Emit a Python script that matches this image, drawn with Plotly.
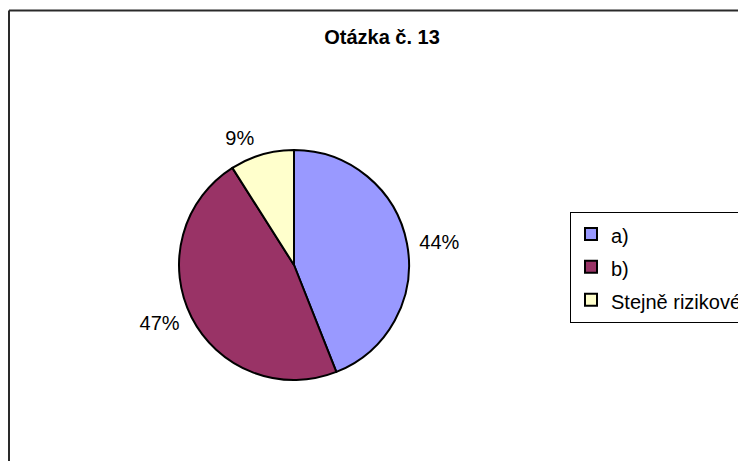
import plotly.graph_objects as go

labels = ["a)", "b)", "Stejně rizikové"]
values = [44, 47, 9]
colors = ["#9999FF", "#993366", "#FFFFCC"]
title_text = "Otázka č. 13"

FONT = "Liberation Sans, Arial, sans-serif"
W, H = 746, 461
# the page adds an 8px body margin, so figure coordinates = page coordinates - 8
OFF = 8
cx, cy, R = 294 - OFF, 265 - OFF, 115  # pie centre (px from top-left) and radius
GAP = 7  # extra distance of the percentage labels from the pie edge


def domain(r):
    return dict(x=[(cx - r) / W, (cx + r) / W],
                y=[(H - cy - r) / H, (H - cy + r) / H])


legend_labels = ['<span style="font-size:20px">' + s + '</span>' for s in labels]

fig = go.Figure()
# visible pie
fig.add_trace(go.Pie(
    labels=legend_labels, values=values, sort=False, direction="clockwise", rotation=0,
    marker=dict(colors=colors, line=dict(color="#000000", width=2)),
    textinfo="none", domain=domain(R), automargin=False, hoverinfo="label+percent",
))
# slightly larger transparent pie that carries the outside percentage labels
fig.add_trace(go.Pie(
    labels=legend_labels, values=values, sort=False, direction="clockwise", rotation=0,
    marker=dict(colors=["rgba(0,0,0,0)"] * len(values), line=dict(width=0)),
    textinfo="percent", textposition="outside", texttemplate="%{percent:.0%}",
    outsidetextfont=dict(family=FONT, size=20, color="#000000"),
    domain=domain(R + GAP), automargin=False, showlegend=False, hoverinfo="skip",
))

border = dict(color="#2a2a2a", width=2)
fig.update_layout(
    width=W, height=H,
    margin=dict(l=0, r=0, t=0, b=0, autoexpand=False),
    paper_bgcolor="white", plot_bgcolor="white",
    font=dict(family=FONT, size=20, color="#000000"),
    title=dict(text="<b>" + title_text + "</b>", x=(382 - OFF) / W, xanchor="center",
               y=1 - (37 - OFF) / H, yanchor="middle",
               font=dict(family=FONT, size=20, color="#000000")),
    legend=dict(x=(570 - OFF) / W, xanchor="left", y=1 - (267 - OFF) / H, yanchor="middle",
                bordercolor="#000000", borderwidth=1, bgcolor="white",
                font=dict(family=FONT, size=23, color="#000000"), itemwidth=30),
    shapes=[
        dict(type="line", xref="paper", yref="paper",
             x0=1 / W, x1=1.0, y0=1 - 2.5 / H, y1=1 - 2.5 / H, line=border),
        dict(type="line", xref="paper", yref="paper",
             x0=1 / W, x1=1 / W, y0=0.0, y1=1 - 2.5 / H, line=border),
    ],
)

fig.write_html("out.html")
